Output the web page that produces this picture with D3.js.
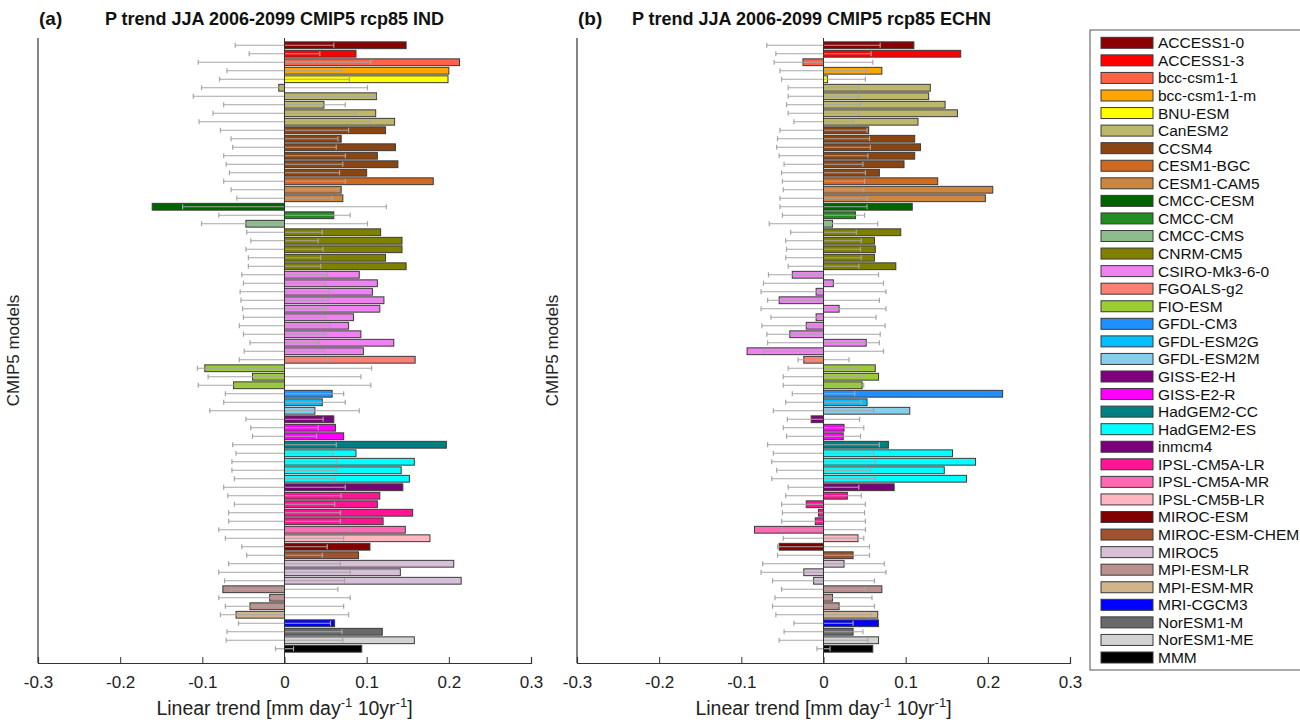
<!DOCTYPE html>
<html>
<head>
<meta charset="utf-8">
<script src="https://cdn.jsdelivr.net/npm/d3@7"></script>
<style>
  body { margin: 0; background: #fff; }
  svg { font-family: "Liberation Sans", Arial, sans-serif; }
</style>
</head>
<body>
<svg id="chart" width="1300" height="720"></svg>
<script>
// models, legend colours and how many ensemble members each contributes
const models = ['ACCESS1-0', 'ACCESS1-3', 'bcc-csm1-1', 'bcc-csm1-1-m', 'BNU-ESM', 'CanESM2', 'CCSM4',
  'CESM1-BGC', 'CESM1-CAM5', 'CMCC-CESM', 'CMCC-CM', 'CMCC-CMS', 'CNRM-CM5', 'CSIRO-Mk3-6-0', 'FGOALS-g2',
  'FIO-ESM', 'GFDL-CM3', 'GFDL-ESM2G', 'GFDL-ESM2M', 'GISS-E2-H', 'GISS-E2-R', 'HadGEM2-CC', 'HadGEM2-ES',
  'inmcm4', 'IPSL-CM5A-LR', 'IPSL-CM5A-MR', 'IPSL-CM5B-LR', 'MIROC-ESM', 'MIROC-ESM-CHEM', 'MIROC5',
  'MPI-ESM-LR', 'MPI-ESM-MR', 'MRI-CGCM3', 'NorESM1-M', 'NorESM1-ME', 'MMM'];
const modelColors = ['#8b0000', '#ff0000', '#ff6347', '#ffa500', '#ffff00', '#bdb76b', '#8b4513',
  '#d2691e', '#cd853f', '#006400', '#228b22', '#8fbc8f', '#808000', '#ee82ee', '#fa8072',
  '#9acd32', '#1e90ff', '#00bfff', '#87ceeb', '#800080', '#ff00ff', '#008080', '#00ffff',
  '#7a007a', '#ff1493', '#ff69b4', '#ffb6c1', '#800000', '#a0522d', '#d8bfd8',
  '#bc8f8f', '#d2b48c', '#0000ff', '#696969', '#d3d3d3', '#000000'];
const members = [1, 1, 1, 1, 1, 5, 6, 1, 2, 1, 1, 1, 5, 10, 1, 3, 1, 1, 1, 1, 2, 1, 4, 1, 4, 1, 1, 1, 1, 3, 3, 1, 1, 1, 1, 1];

// linear trends per run (mm/day per 10yr) and half-width of the noise range
const trendIND = [0.148, 0.087, 0.213, 0.200, 0.199, -0.007, 0.112, 0.048, 0.111, 0.134,
  0.123, 0.069, 0.135, 0.113, 0.138, 0.100, 0.181, 0.069, 0.071, -0.161,
  0.060, -0.047, 0.117, 0.143, 0.143, 0.123, 0.148, 0.091, 0.113, 0.107,
  0.121, 0.116, 0.084, 0.078, 0.093, 0.133, 0.096, 0.159, -0.097, -0.039,
  -0.062, 0.058, 0.046, 0.037, 0.060, 0.062, 0.072, 0.197, 0.087, 0.158,
  0.142, 0.152, 0.144, 0.116, 0.113, 0.156, 0.120, 0.147, 0.177, 0.104,
  0.090, 0.206, 0.141, 0.215, -0.075, -0.018, -0.042, -0.059, 0.061, 0.119,
  0.158, 0.094];
const errIND = [0.060, 0.043, 0.105, 0.070, 0.079, 0.101, 0.111, 0.074, 0.087, 0.104,
  0.078, 0.065, 0.063, 0.074, 0.071, 0.067, 0.074, 0.065, 0.058, 0.124,
  0.080, 0.101, 0.046, 0.041, 0.047, 0.044, 0.044, 0.052, 0.050, 0.054,
  0.053, 0.051, 0.050, 0.055, 0.050, 0.042, 0.049, 0.055, 0.106, 0.093,
  0.105, 0.072, 0.074, 0.091, 0.047, 0.041, 0.039, 0.063, 0.059, 0.064,
  0.064, 0.061, 0.074, 0.069, 0.061, 0.068, 0.068, 0.080, 0.072, 0.052,
  0.046, 0.068, 0.080, 0.073, 0.065, 0.080, 0.072, 0.078, 0.056, 0.070,
  0.071, 0.011];
const trendECHN = [0.110, 0.167, -0.025, 0.071, 0.005, 0.130, 0.128, 0.148, 0.163, 0.115,
  0.055, 0.111, 0.118, 0.111, 0.098, 0.068, 0.139, 0.206, 0.197, 0.108,
  0.039, 0.011, 0.094, 0.062, 0.063, 0.062, 0.088, -0.038, 0.012, -0.009,
  -0.054, 0.019, -0.009, -0.021, -0.041, 0.052, -0.093, -0.024, 0.063, 0.067,
  0.047, 0.218, 0.053, 0.105, -0.015, 0.025, 0.024, 0.079, 0.157, 0.185,
  0.147, 0.174, 0.086, 0.029, -0.021, -0.006, -0.010, -0.084, 0.042, -0.054,
  0.036, 0.025, -0.024, -0.012, 0.071, 0.011, 0.019, 0.066, 0.067, 0.036,
  0.067, 0.060];
const errECHN = [0.069, 0.058, 0.060, 0.053, 0.051, 0.043, 0.043, 0.045, 0.043, 0.036,
  0.053, 0.056, 0.057, 0.054, 0.048, 0.051, 0.050, 0.049, 0.053, 0.053,
  0.050, 0.066, 0.040, 0.046, 0.045, 0.046, 0.043, 0.067, 0.073, 0.076,
  0.068, 0.076, 0.064, 0.075, 0.069, 0.068, 0.073, 0.031, 0.043, 0.049,
  0.049, 0.038, 0.046, 0.061, 0.044, 0.049, 0.045, 0.068, 0.061, 0.063,
  0.057, 0.063, 0.043, 0.046, 0.051, 0.050, 0.051, 0.051, 0.049, 0.056,
  0.056, 0.074, 0.076, 0.062, 0.051, 0.059, 0.062, 0.058, 0.036, 0.048,
  0.054, 0.008];

const xTicks = [-0.3, -0.2, -0.1, 0, 0.1, 0.2, 0.3];

// expand model list into one colour per run
const runColors = [];
members.forEach((n, i) => { for (let k = 0; k < n; k++) runColors.push(modelColors[i]); });
const runIdx = d3.range(runColors.length);

const svg = d3.select('#chart');
const plotTop = 38, plotBottom = 663;

const y = d3.scaleBand()
  .domain(runIdx)
  .range([41, 653])
  .paddingInner(0.2)
  .paddingOuter(0.1);

function panel({ x0, x1, letter, title, titleShift, trends, errs }) {
  const x = d3.scaleLinear().domain([-0.3, 0.3]).range([x0, x1]);
  const g = svg.append('g');
  const rows = runIdx.map(i => ({ i, v: trends[i], e: errs[i], c: runColors[i] }));

  // bars
  g.append('g')
    .selectAll('rect')
    .data(rows)
    .join('rect')
    .attr('x', d => x(Math.min(0, d.v)))
    .attr('y', d => y(d.i))
    .attr('width', d => Math.abs(x(d.v) - x(0)))
    .attr('height', y.bandwidth())
    .attr('fill', d => d.c)
    .attr('stroke', '#3a3a3a')
    .attr('stroke-width', 1);

  // noise range whiskers drawn on top
  const wh = g.append('g')
    .attr('stroke', '#a6a6a6')
    .attr('stroke-width', 1.2)
    .selectAll('g')
    .data(rows)
    .join('g')
    .attr('transform', d => `translate(0,${y(d.i) + y.bandwidth() / 2})`);
  wh.append('line')
    .attr('x1', d => x(-d.e))
    .attr('x2', d => x(d.e));
  wh.append('line')
    .attr('x1', d => x(-d.e)).attr('x2', d => x(-d.e))
    .attr('y1', -2.5).attr('y2', 2.5);
  wh.append('line')
    .attr('x1', d => x(d.e)).attr('x2', d => x(d.e))
    .attr('y1', -2.5).attr('y2', 2.5);

  // zero line
  g.append('line')
    .attr('x1', x(0)).attr('x2', x(0))
    .attr('y1', plotTop).attr('y2', plotBottom)
    .attr('stroke', '#333').attr('stroke-width', 1);

  // left spine
  g.append('line')
    .attr('x1', x0).attr('x2', x0)
    .attr('y1', plotTop).attr('y2', plotBottom)
    .attr('stroke', '#333').attr('stroke-width', 1.2);

  // bottom axis, ticks pointing inward
  const ax = g.append('g')
    .attr('transform', `translate(0,${plotBottom})`)
    .call(d3.axisBottom(x)
      .tickValues(xTicks)
      .tickSizeInner(-6)
      .tickSizeOuter(-6)
      .tickPadding(13)
      .tickFormat(d => String(+d.toFixed(1))));
  ax.select('.domain').attr('stroke', '#333').attr('stroke-width', 1.2);
  ax.selectAll('.tick line').attr('stroke', '#333');
  ax.selectAll('.tick text')
    .attr('font-size', 17)
    .attr('font-family', '"Liberation Sans", Arial, sans-serif')
    .attr('fill', '#222');

  // x label with superscripts
  const xl = g.append('text')
    .attr('x', (x0 + x1) / 2)
    .attr('y', 715)
    .attr('text-anchor', 'middle')
    .attr('font-size', 19.5)
    .attr('fill', '#222');
  xl.append('tspan').text('Linear trend [mm day');
  xl.append('tspan').attr('dy', -8).attr('font-size', 13).text('-1');
  xl.append('tspan').attr('dy', 8).text('  10yr');
  xl.append('tspan').attr('dy', -8).attr('font-size', 13).text('-1');
  xl.append('tspan').attr('dy', 8).text(']');

  // y label
  g.append('text')
    .attr('transform', `translate(${x0 - 19},${(plotTop + plotBottom) / 2}) rotate(-90)`)
    .attr('text-anchor', 'middle')
    .attr('font-size', 17)
    .attr('fill', '#222')
    .text('CMIP5 models');

  // panel letter and title
  g.append('text')
    .attr('x', x0 + 1)
    .attr('y', 25)
    .attr('font-size', 19)
    .attr('font-weight', 'bold')
    .attr('fill', '#111')
    .text(letter);
  g.append('text')
    .attr('x', (x0 + x1) / 2 + titleShift)
    .attr('y', 25)
    .attr('text-anchor', 'middle')
    .attr('font-size', 18)
    .attr('font-weight', 'bold')
    .attr('fill', '#111')
    .text(title);
}

panel({ x0: 38, x1: 531, letter: '(a)', title: 'P trend JJA 2006-2099 CMIP5 rcp85 IND', titleShift: -10, trends: trendIND, errs: errIND });
panel({ x0: 577, x1: 1070, letter: '(b)', title: 'P trend JJA 2006-2099 CMIP5 rcp85 ECHN', titleShift: -12, trends: trendECHN, errs: errECHN });

// legend
const legend = svg.append('g');
legend.append('rect')
  .attr('x', 1090).attr('y', 30)
  .attr('width', 240).attr('height', 640)
  .attr('fill', '#fff')
  .attr('stroke', '#555')
  .attr('stroke-width', 1);

const ly = d3.scaleLinear().domain([0, models.length - 1]).range([42.8, 657.5]);
const item = legend.selectAll('g.item')
  .data(models)
  .join('g')
  .attr('class', 'item')
  .attr('transform', (d, i) => `translate(0,${ly(i)})`);
item.append('rect')
  .attr('x', 1101).attr('y', -5.5)
  .attr('width', 52).attr('height', 11)
  .attr('fill', (d, i) => modelColors[i])
  .attr('stroke', '#3a3a3a')
  .attr('stroke-width', 1);
item.append('text')
  .attr('x', 1158)
  .attr('y', 5.5)
  .attr('font-size', 15.5)
  .attr('fill', '#111')
  .text(d => d);
</script>
</body>
</html>
